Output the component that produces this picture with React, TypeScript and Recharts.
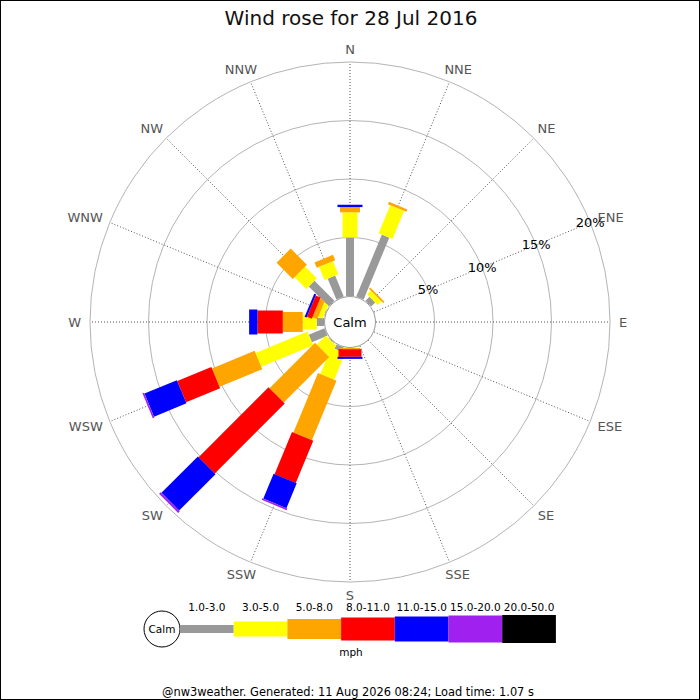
import { RadialBarChart, RadialBar, PolarAngleAxis, PolarRadiusAxis, PolarGrid } from "recharts";

// compass points, clockwise from north
const DIRS = ["N", "NNE", "NE", "ENE", "E", "ESE", "SE", "SSE", "S", "SSW", "SW", "WSW", "W", "WNW", "NW", "NNW"];
const BEARINGS = [0, 22.5, 45, 67.5, 90, 112.5, 135, 157.5, 180, 202.5, 225, 247.5, 270, 292.5, 315, 337.5];

// % of the day in each speed band, per direction (same order as DIRS)
const MPH_1_3 = [5.0, 5.72, 0.48, 0, 0, 0, 0, 0, 0, 0.4, 0.05, 1.45, 0.62, 0.05, 2.42, 1.93];
const MPH_3_5 = [2.15, 2.6, 0.45, 0, 0, 0, 0, 0, 0, 2.46, 1.1, 4.8, 1.2, 0.4, 1.42, 1.21];
const MPH_5_8 = [0.45, 0.22, 0.15, 0, 0, 0, 0, 0, 0.1, 5.5, 5.5, 3.95, 1.7, 0.45, 1.96, 0.5];
const MPH_8_11 = [0, 0, 0, 0, 0, 0, 0, 0, 0.65, 3.9, 8.45, 3.15, 2.17, 0.45, 0, 0];
const MPH_11_15 = [0.2, 0, 0, 0, 0, 0, 0, 0, 0.18, 2.3, 4.4, 3.0, 0.71, 0.18, 0, 0];
const MPH_15_20 = [0, 0, 0, 0, 0, 0, 0, 0, 0, 0.15, 0.2, 0.15, 0, 0, 0, 0];
const MPH_20_50 = [0, 0, 0, 0, 0, 0, 0, 0, 0, 0, 0, 0, 0, 0, 0, 0];

const BINS = ["1.0-3.0", "3.0-5.0", "5.0-8.0", "8.0-11.0", "11.0-15.0", "15.0-20.0", "20.0-50.0"];
const PCT_TICKS = [5, 10, 15, 20];

const SERIES = [
  { key: "s1", values: MPH_1_3, color: "#999999", width: 8 },
  { key: "s2", values: MPH_3_5, color: "#ffff00", width: 15 },
  { key: "s3", values: MPH_5_8, color: "#ffa500", width: 20 },
  { key: "s4", values: MPH_8_11, color: "#ff0000", width: 23 },
  { key: "s5", values: MPH_11_15, color: "#0000ff", width: 25 },
  { key: "s6", values: MPH_15_20, color: "#a020f0", width: 27 },
  { key: "s7", values: MPH_20_50, color: "#000000", width: 28 },
];

const rows = DIRS.map((dir, i) => {
  const row: Record<string, number | string> = { dir, deg: BEARINGS[i] };
  SERIES.forEach((s) => (row[s.key] = s.values[i]));
  return row;
});

const FONT = "DejaVu Sans";
const RAD = Math.PI / 180;
// rough DejaVu Sans advance widths (em) for the compass letters
const GLYPH: Record<string, number> = { N: 0.748, E: 0.632, S: 0.635, W: 0.989 };

// straight leg of constant pixel width, along the middle of the sector
function leg(width: number) {
  return (props: any) => {
    const { cx, cy, innerRadius, outerRadius, startAngle, endAngle, fill } = props;
    if (!(outerRadius - innerRadius > 0.01)) return <g />;
    const a = ((startAngle + endAngle) / 2) * RAD;
    const ux = Math.cos(a);
    const uy = -Math.sin(a);
    const px = (-uy * width) / 2;
    const py = (ux * width) / 2;
    const pts = [
      [cx + ux * innerRadius + px, cy + uy * innerRadius + py],
      [cx + ux * outerRadius + px, cy + uy * outerRadius + py],
      [cx + ux * outerRadius - px, cy + uy * outerRadius - py],
      [cx + ux * innerRadius - px, cy + uy * innerRadius - py],
    ]
      .map((p) => p.join(","))
      .join(" ");
    return <polygon points={pts} fill={fill} />;
  };
}

// label pushed outward by half its size, so it sits just outside the ring
function CompassTick(props: any) {
  const { x, y, payload } = props;
  const i = BEARINGS.indexOf(payload.value);
  const name = DIRS[i] ?? "";
  const w = name.split("").reduce((t, c) => t + (GLYPH[c] ?? 0.7), 0) * 13;
  const b = payload.value * RAD;
  return (
    <text
      x={x + (w / 2) * Math.sin(b)}
      y={y - 4 * Math.cos(b)}
      textAnchor="middle"
      dominantBaseline="central"
      fontSize={13}
      fill="#555"
      fontFamily={FONT}
    >
      {name}
    </text>
  );
}

function PctTick(props: any) {
  const { x, y, payload } = props;
  if (!payload.value) return <g />;
  return (
    <text x={x} y={y} textAnchor="middle" dominantBaseline="central" fontSize={13} fill="#000" fontFamily={FONT}>
      {payload.value}%
    </text>
  );
}

function Overlay() {
  const x0 = 180;
  const w = 53.7;
  const heights = [8, 15, 20, 23, 25, 27, 28];
  return (
    <svg width={700} height={700} style={{ position: "absolute", left: 0, top: 0, pointerEvents: "none" }} fontFamily={FONT}>
      <text x={351} y={24.5} textAnchor="middle" fontSize={20} fill="#111">
        Wind rose for 28 Jul 2016
      </text>
      <circle cx={350} cy={322} r={25.5} fill="#fff" stroke="#999" />
      <text x={350} y={322} textAnchor="middle" dominantBaseline="central" fontSize={13} fill="#000">
        Calm
      </text>

      <circle cx={162} cy={629} r={18} fill="#fff" stroke="#000" />
      <text x={162} y={629} textAnchor="middle" dominantBaseline="central" fontSize={10.5} fill="#000">
        Calm
      </text>
      {SERIES.map((s, i) => (
        <g key={s.key}>
          <rect x={x0 + i * w} y={629 - heights[i] / 2} width={w} height={heights[i]} fill={s.color} />
          <text x={x0 + i * w + w / 2} y={611} textAnchor="middle" fontSize={10.5} fill="#000">
            {BINS[i]}
          </text>
        </g>
      ))}
      <text x={351} y={656} textAnchor="middle" fontSize={10.5} fill="#000">
        mph
      </text>
      <text x={348} y={696} textAnchor="middle" fontSize={11.4} fill="#000">
        @nw3weather. Generated: 11 Aug 2026 08:24; Load time: 1.07 s
      </text>
    </svg>
  );
}

export default function App() {
  return (
    <div style={{ position: "absolute", left: 0, top: 0, width: 700, height: 700, background: "#fff" }}>
      <div style={{ position: "absolute", left: 0, top: 0 }}>
        <RadialBarChart
          width={700}
          height={700}
          data={rows}
          layout="centric"
          cx={350}
          cy={322}
          innerRadius={26}
          outerRadius={260}
          startAngle={90}
          endAngle={-270}
          margin={{ top: 0, right: 0, bottom: 0, left: 0 }}
        >
          <PolarGrid gridType="circle" radialLines={false} stroke="#b4b4b4" />
          <PolarGrid gridType="circle" polarRadius={[]} stroke="#555" strokeDasharray="1 2" />
          <PolarAngleAxis
            type="number"
            dataKey="deg"
            domain={[0, 360]}
            ticks={BEARINGS}
            tick={<CompassTick />}
            tickSize={9}
            axisLine={false}
            tickLine={false}
          />
          <PolarRadiusAxis
            type="number"
            angle={22.5}
            domain={[0, 20]}
            ticks={PCT_TICKS}
            tickCount={5}
            orientation="middle"
            tick={<PctTick />}
            axisLine={false}
            tickLine={false}
          />
          {SERIES.map((s) => (
            <RadialBar key={s.key} dataKey={s.key} stackId="wind" fill={s.color} shape={leg(s.width)} isAnimationActive={false} />
          ))}
        </RadialBarChart>
      </div>
      <Overlay />
      <div
        style={{
          position: "absolute",
          left: 0,
          top: 0,
          width: 700,
          height: 700,
          border: "1px solid #000",
          boxSizing: "border-box",
          pointerEvents: "none",
        }}
      />
    </div>
  );
}
